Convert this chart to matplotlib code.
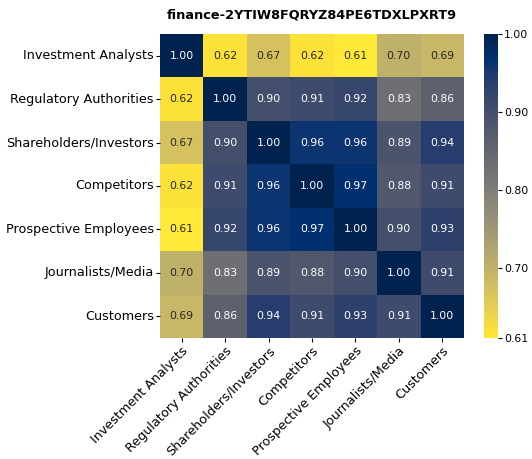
import matplotlib
matplotlib.use("Agg")
import matplotlib.pyplot as plt
import seaborn as sns
import numpy as np
import pandas as pd

labels = ["Investment Analysts", "Regulatory Authorities", "Shareholders/Investors",
          "Competitors", "Prospective Employees", "Journalists/Media", "Customers"]
row0 = [1.00, 0.62, 0.67, 0.62, 0.61, 0.70, 0.69]
row1 = [0.62, 1.00, 0.90, 0.91, 0.92, 0.83, 0.86]
row2 = [0.67, 0.90, 1.00, 0.96, 0.96, 0.89, 0.94]
row3 = [0.62, 0.91, 0.96, 1.00, 0.97, 0.88, 0.91]
row4 = [0.61, 0.92, 0.96, 0.97, 1.00, 0.90, 0.93]
row5 = [0.70, 0.83, 0.89, 0.88, 0.90, 1.00, 0.91]
row6 = [0.69, 0.86, 0.94, 0.91, 0.93, 0.91, 1.00]
cbar_ticks = [0.61, 0.70, 0.80, 0.90, 1.00]
title = "finance-2YTIW8FQRYZ84PE6TDXLPXRT9"

df = pd.DataFrame([row0, row1, row2, row3, row4, row5, row6], index=labels, columns=labels)

fig = plt.figure(figsize=(5.32, 4.59), dpi=100)
ax = fig.add_axes([160/532, 1-338/459, 304/532, 304/459])
cax = fig.add_axes([484/532, 1-338/459, 14/532, 304/459])
sns.heatmap(df, ax=ax, cbar_ax=cax, annot=True, fmt=".2f", cmap="cividis_r",
            vmin=0.61, vmax=1.00, annot_kws={"size": 7.8},
            cbar_kws={"ticks": cbar_ticks})
cax.set_yticklabels([f"{t:.2f}" for t in cbar_ticks])
cax.tick_params(labelsize=7.8, length=3, pad=1.5)
ax.tick_params(length=3, pad=1.5)
ax.set_xticklabels(labels, rotation=45, ha="right", rotation_mode="anchor", fontsize=9.2)
ax.set_yticklabels(labels, rotation=0, fontsize=9.2)
ax.set_title(title, fontsize=9.3, fontweight="bold", pad=11)
fig.savefig("out.png", dpi=100)
